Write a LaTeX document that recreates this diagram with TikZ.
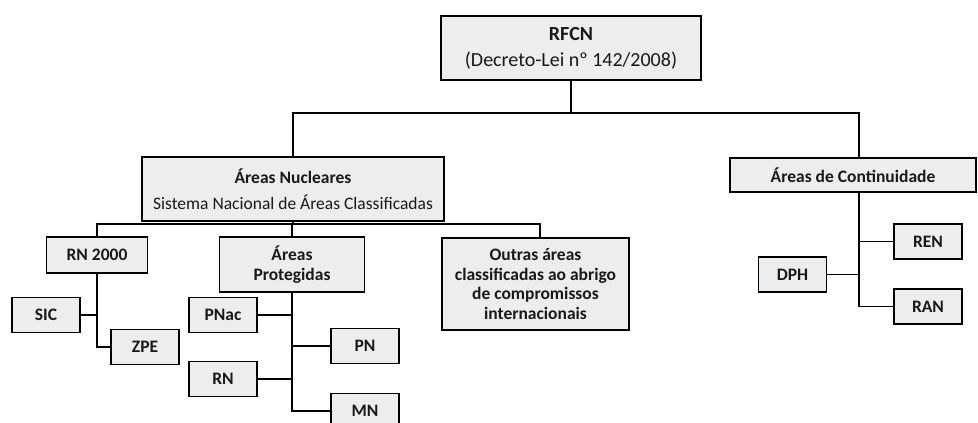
\documentclass[tikz,border=0pt]{standalone}
\usepackage{fontspec}
\setmainfont{Carlito}
\definecolor{boxfill}{RGB}{235,237,238}
\definecolor{txt}{RGB}{25,25,25}
\begin{document}
\begin{tikzpicture}[x=1pt,y=-1pt,
  box/.style={draw=black,line width=1.2pt,fill=boxfill,inner sep=0pt,align=center,
    font=\fontsize{17.5}{19.5}\selectfont,text=txt},
  bbox/.style={box,font=\bfseries\fontsize{17.5}{19.5}\selectfont},
  lk/.style={draw=black,line width=1.2pt}]
\useasboundingbox (0,0) rectangle (978,423);
\node[box,minimum width=260pt,minimum height=64pt,font=\fontsize{20}{22}\selectfont] (rfcn) at (571,48)
  {\textbf{RFCN}\\[4pt](Decreto-Lei nº 142/2008)};
\node[box,minimum width=302pt,minimum height=64pt] (nuc) at (293,189)
  {\textbf{Áreas Nucleares}\\[6pt]Sistema Nacional de Áreas Classificadas};
\node[bbox,minimum width=246pt,minimum height=34pt] (cont) at (853,175)
  {Áreas de Continuidade};
\node[bbox,minimum width=101pt,minimum height=36pt] (rn2000) at (97,255) {RN 2000};
\node[bbox,minimum width=145pt,minimum height=55pt] (prot) at (292,264.5) {Áreas\\Protegidas};
\node[bbox,minimum width=187pt,minimum height=92pt] (outras) at (535.5,284)
  {Outras áreas\\classificadas ao abrigo\\de compromissos\\internacionais};
\tikzset{small/.style={bbox,minimum width=68pt,minimum height=35pt}}
\node[small] (sic) at (46,315) {SIC};
\node[small] (zpe) at (145,347) {ZPE};
\node[small] (pnac) at (223,315) {PNac};
\node[small] (pn) at (365,346) {PN};
\node[small] (rn) at (223,379) {RN};
\node[small] (mn) at (365,411) {MN};
\node[small] (ren) at (928,241.5) {REN};
\node[small] (dph) at (792.5,274.5) {DPH};
\node[small] (ran) at (928,306.5) {RAN};
\coordinate (h1) at (0,113);
\coordinate (h2) at (0,224);
\coordinate (cx) at (859,0);
\coordinate (ox) at (540,0);
% top level
\draw[lk] (rfcn.south) -- (rfcn.south |- h1);
\draw[lk] (nuc.north) -- (nuc.north |- h1) -- (cx |- h1) -- (cx |- cont.north);
% nucleares
\draw[lk] (nuc.south) -- (nuc.south |- h2);
\draw[lk] (rn2000.north) -- (rn2000.north |- h2) -- (ox |- h2) -- (ox |- outras.north);
\draw[lk] (prot.north) -- (prot.north |- h2);
% RN 2000
\draw[lk] (rn2000.south) |- (zpe.west);
\draw[lk] (sic.east) -- (sic.east -| rn2000.south);
% protegidas
\draw[lk] (prot.south) |- (mn.west);
\draw[lk] (pnac.east) -- (pnac.east -| prot.south);
\draw[lk] (rn.east) -- (rn.east -| prot.south);
\draw[lk] (pn.west) -- (pn.west -| prot.south);
% continuidade
\draw[lk] (cx |- cont.south) |- (ran.west);
\draw[lk] (ren.west) -- (ren.west -| cx);
\draw[lk] (dph.east) -- (dph.east -| cx);
\end{tikzpicture}
\end{document}
